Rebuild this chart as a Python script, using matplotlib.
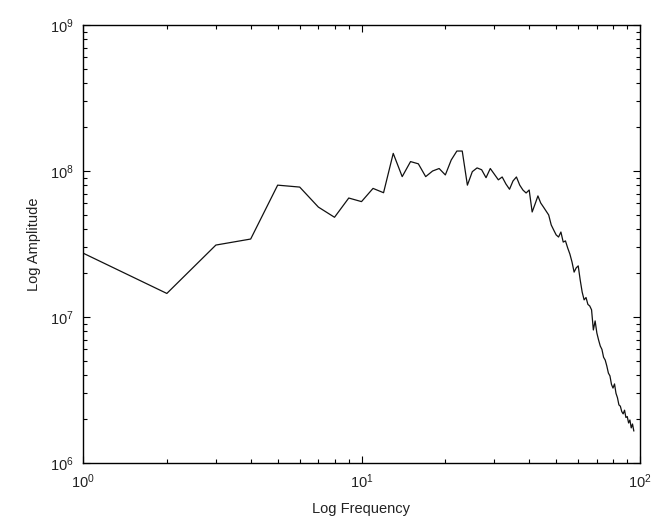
import numpy as np
import matplotlib.pyplot as plt

# spectrum samples: frequency bin -> amplitude
freq = np.arange(1, 96)
amp = [
    2.74e7, 1.45e7, 3.11e7, 3.42e7, 8.0e7, 7.76e7, 5.66e7, 4.82e7, 6.53e7, 6.17e7,
    7.6e7, 7.1e7, 1.32e8, 9.15e7, 1.16e8, 1.12e8, 9.15e7, 1.0e8, 1.04e8, 9.4e7,
    1.19e8, 1.37e8, 1.37e8, 8.0e7, 9.9e7, 1.05e8, 1.02e8, 9.0e7, 1.04e8, 9.5e7,
    8.7e7, 9.1e7, 8.15e7, 7.5e7, 8.55e7, 9.1e7, 8.0e7, 7.4e7, 7.07e7, 7.41e7,
    5.24e7, 5.94e7, 6.75e7, 6.04e7, 5.67e7, 5.32e7, 5.0e7, 4.27e7, 3.94e7, 3.65e7,
    3.53e7, 3.82e7, 3.26e7, 3.32e7, 2.97e7, 2.70e7, 2.38e7, 2.03e7, 2.17e7, 2.24e7,
    1.79e7, 1.48e7, 1.31e7, 1.36e7, 1.22e7, 1.19e7, 1.12e7, 8.15e6, 9.4e6, 7.77e6,
    6.96e6, 6.33e6, 6.0e6, 5.3e6, 5.07e6, 4.62e6, 4.13e6, 3.95e6, 3.45e6, 3.26e6,
    3.48e6, 3.0e6, 2.80e6, 2.50e6, 2.45e6, 2.25e6, 2.17e6, 2.30e6, 2.05e6, 2.08e6,
    1.88e6, 1.97e6, 1.74e6, 1.85e6, 1.66e6,
]

plt.rcParams['font.family'] = ['Liberation Sans', 'DejaVu Sans']
plt.rcParams['font.size'] = 10.5

fig = plt.figure(figsize=(6.53, 5.21), dpi=100)
ax = fig.add_axes([83/653, 1 - 463/521, (640 - 83)/653, (463 - 25)/521])

ax.loglog(freq, amp, color='#111111', linewidth=0.9)
ax.set_xlim(1, 100)
ax.set_ylim(1e6, 1e9)

ax.tick_params(which='both', direction='in', top=True, right=True,
               width=0.8, colors='black', labelcolor='#222222')
ax.tick_params(which='major', length=5, pad=7)
ax.tick_params(which='minor', length=3)
for s in ax.spines.values():
    s.set_linewidth(1.0)

ax.set_xlabel('Log Frequency', color='#222222', labelpad=8)
ax.set_ylabel('Log Amplitude', color='#222222', labelpad=6)

fig.savefig('out.png', dpi=100)
